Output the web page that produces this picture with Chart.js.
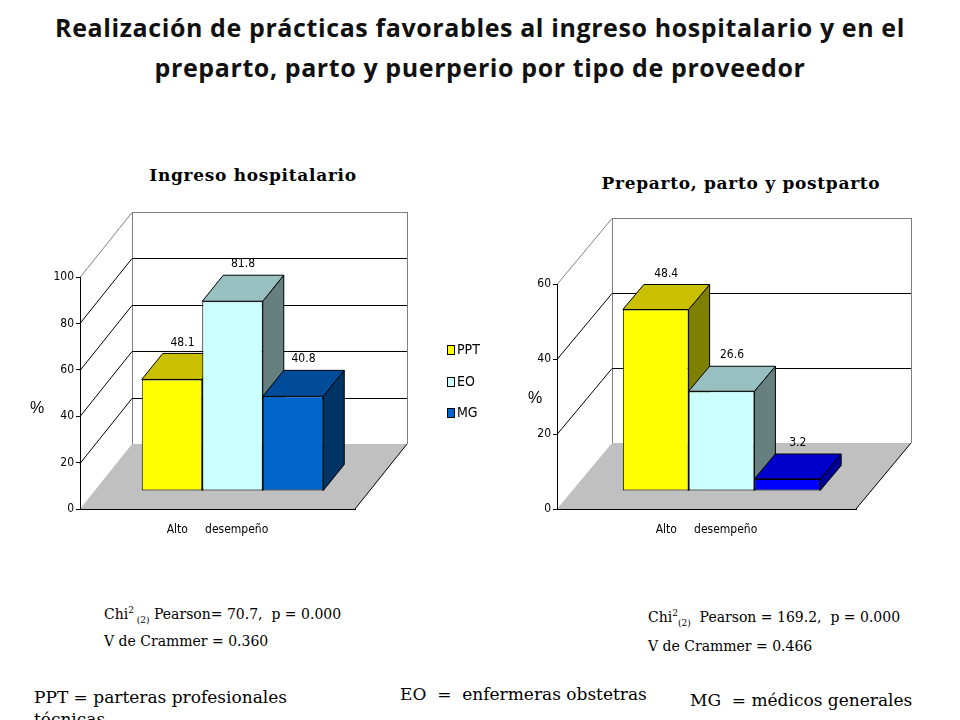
<!DOCTYPE html>
<html>
<head>
<meta charset="utf-8">
<script src="https://cdn.jsdelivr.net/npm/chart.js@4.4.1/dist/chart.umd.min.js"></script>
<style>
  body { margin: 0; width: 960px; height: 720px; overflow: hidden; background: #fff; position: relative; }
  canvas { position: absolute; top: 0; }
  #ingreso { left: 0; }
  #preparto { left: 480px; }
  .t { position: absolute; white-space: nowrap; color: #000; }
  #title { left: 0; top: 7px; width: 960px; text-align: center; font: bold 25px "Open Sans", Lato, sans-serif; letter-spacing: 0.6px; line-height: 40px; color: #111; }
  .sub { width: 400px; text-align: center; font: bold 17px "DejaVu Serif", serif; line-height: 20px; letter-spacing: 0.7px; }
  .pct { font: 16px "Liberation Sans", Arial, sans-serif; line-height: 20px; }
  .stat { font: 14px "DejaVu Serif", serif; line-height: 18px; }
  .stat sup, .stat sub { font-size: 9px; line-height: 0; }
  .foot { font: 17px "DejaVu Serif", serif; line-height: 22px; }
  #legend { left: 447px; top: 340px; font: 14px "Liberation Sans Narrow", "DejaVu Sans Condensed", sans-serif; }
  #legend div { height: 31.5px; line-height: 18px; }
  #legend span.box { display: inline-block; width: 6px; height: 8px; border: 1px solid #000; margin-right: 2px; vertical-align: -1px; }
</style>
</head>
<body>
<div class="t" id="title">Realización de prácticas favorables al ingreso hospitalario y en el<br>preparto, parto y puerperio por tipo de proveedor</div>
<div class="t sub" style="left:53px;top:165px">Ingreso hospitalario</div>
<div class="t sub" style="left:541px;top:173px">Preparto, parto y postparto</div>
<canvas id="ingreso" width="480" height="560"></canvas>
<canvas id="preparto" width="480" height="560"></canvas>
<div class="t pct" style="left:30px;top:398px">%</div>
<div class="t pct" style="left:528px;top:388px">%</div>
<div class="t" id="legend"></div>
<div class="t stat" style="left:104px;top:605px">Chi<sup>2</sup><sub> (2)</sub> Pearson= 70.7,&nbsp; p = 0.000</div>
<div class="t stat" style="left:104px;top:632px">V de Crammer = 0.360</div>
<div class="t stat" style="left:648px;top:608px">Chi<sup>2</sup><sub>(2)</sub>&nbsp; Pearson = 169.2,&nbsp; p = 0.000</div>
<div class="t stat" style="left:648px;top:637px">V de Crammer = 0.466</div>
<div class="t foot" style="left:34px;top:686px">PPT = parteras profesionales<br>técnicas</div>
<div class="t foot" style="left:400px;top:683px">EO&nbsp; =&nbsp; enfermeras obstetras</div>
<div class="t foot" style="left:690px;top:689px">MG&nbsp; = médicos generales</div>
<script>
const categories = ['Alto     desempeño'];
const seriesNames = ['PPT', 'EO', 'MG'];
const ingresoValues = [48.1, 81.8, 40.8];
const prepartoValues = [48.4, 26.6, 3.2];
const ingresoTicks = [0, 20, 40, 60, 80, 100];
const prepartoTicks = [0, 20, 40, 60];

// front / top / side faces
const ingresoFront = ['#ffff00', '#ccffff', '#0066cc'];
const ingresoTop = ['#c8c000', '#99c0c0', '#004c99'];
const ingresoSide = ['#808000', '#668080', '#003366'];
const prepartoFront = ['#ffff00', '#ccffff', '#0000ff'];
const prepartoTop = ['#c8c000', '#99c0c0', '#0000cc'];
const prepartoSide = ['#808000', '#668080', '#000099'];

const narrow = '"Liberation Sans Narrow", "DejaVu Sans Condensed", sans-serif';

function poly(ctx, pts, fill, stroke) {
  ctx.beginPath();
  ctx.moveTo(pts[0][0], pts[0][1]);
  for (let i = 1; i < pts.length; i++) ctx.lineTo(pts[i][0], pts[i][1]);
  ctx.closePath();
  if (fill) { ctx.fillStyle = fill; ctx.fill(); }
  if (stroke) { ctx.strokeStyle = stroke; ctx.lineWidth = 1; ctx.stroke(); }
}

function line(ctx, x1, y1, x2, y2, color) {
  ctx.beginPath();
  ctx.moveTo(x1, y1);
  ctx.lineTo(x2, y2);
  ctx.strokeStyle = color;
  ctx.lineWidth = 1;
  ctx.stroke();
}

// fake 3D: wall + floor behind, side/top faces of bars, fronts pushed back
const box3d = {
  id: 'box3d',
  beforeDraw(chart, args, o) {
    const ctx = chart.ctx, a = chart.chartArea, y = chart.scales.y;
    const wx = o.wallX, wy = o.wallY;
    ctx.save();
    poly(ctx, [[a.left, a.bottom], [a.right, a.bottom], [a.right + wx, a.bottom + wy], [a.left + wx, a.bottom + wy]], '#c0c0c0');
    line(ctx, a.left + wx + 0.5, a.top + wy, a.left + wx + 0.5, a.bottom + wy, '#808080');
    line(ctx, a.right + wx + 0.5, a.top + wy, a.right + wx + 0.5, a.bottom + wy, '#808080');
    y.ticks.forEach(t => {
      if (t.value === y.min) return;
      const py = Math.round(y.getPixelForValue(t.value)) + 0.5;
      const c = t.value === y.max ? '#808080' : '#000';
      line(ctx, a.left, py, a.left + wx, py + wy, c);
      line(ctx, a.left + wx, py + wy, a.right + wx, py + wy, c);
    });
    line(ctx, a.right, a.bottom, a.right + wx, a.bottom + wy, '#000');
    ctx.restore();
  },
  beforeDatasetsDraw(chart, args, o) {
    const ctx = chart.ctx;
    const fx = Math.round(o.wallX * o.front), fy = Math.round(o.wallY * o.front);
    const bx = Math.round(o.wallX * o.depth), by = Math.round(o.wallY * o.depth);
    const bars = chart.data.datasets.map((ds, i) => ({ ds, el: chart.getDatasetMeta(i).data[0] }));
    ctx.save();
    bars.forEach(({ ds, el }) => {
      const r = el.x + el.width / 2 + fx, t = el.y + fy, b = el.base + fy;
      poly(ctx, [[r, t], [r + bx, t + by], [r + bx, b + by], [r, b]], ds.sideColor, '#000');
    });
    bars.forEach(({ ds, el }) => {
      const l = el.x - el.width / 2 + fx, r = el.x + el.width / 2 + fx, t = el.y + fy;
      poly(ctx, [[l, t], [l + bx, t + by], [r + bx, t + by], [r, t]], ds.topColor, '#000');
    });
    ctx.restore();
    ctx.save();
    ctx.translate(fx, fy);
  },
  afterDatasetsDraw(chart, args, o) {
    const ctx = chart.ctx;
    ctx.restore();
    const fx = Math.round(o.wallX * o.front), fy = Math.round(o.wallY * o.front);
    const bx = Math.round(o.wallX * o.depth), by = Math.round(o.wallY * o.depth);
    ctx.save();
    ctx.font = '12px ' + narrow;
    ctx.fillStyle = '#000';
    ctx.textAlign = 'center';
    ctx.textBaseline = 'middle';
    chart.data.datasets.forEach((ds, i) => {
      const el = chart.getDatasetMeta(i).data[0];
      ctx.fillText(ds.data[0].toFixed(1), el.x + fx + bx / 2, el.y + fy + by - 11);
    });
    ctx.restore();
  }
};

function makeChart(id, values, ticks, front, top, side, padding, box) {
  return new Chart(document.getElementById(id), {
    type: 'bar',
    data: {
      labels: categories,
      datasets: seriesNames.map((name, i) => ({
        label: name,
        data: [values[i]],
        backgroundColor: front[i],
        topColor: top[i],
        sideColor: side[i],
        borderColor: '#000',
        borderWidth: 1,
        borderSkipped: false,
      })),
    },
    options: {
      responsive: false,
      animation: false,
      devicePixelRatio: 1,
      layout: { padding: padding },
      datasets: { bar: { barPercentage: 1, categoryPercentage: 0.66 } },
      plugins: {
        legend: { display: false },
        tooltip: { enabled: false },
        box3d: box,
      },
      scales: {
        x: {
          grid: { display: false, drawTicks: false },
          border: { display: true, color: '#000' },
          ticks: { padding: 14, color: '#000', font: { family: narrow, size: 12 } },
          afterFit: s => { s.height = 51; },
        },
        y: {
          min: 0,
          max: ticks[ticks.length - 1],
          afterBuildTicks: s => { s.ticks = ticks.map(v => ({ value: v })); },
          grid: { drawOnChartArea: false, color: '#000', tickLength: 4 },
          border: { color: '#000' },
          ticks: { padding: 2, color: '#000', font: { family: narrow, size: 12 } },
          afterFit: s => { s.width = 40; },
        },
      },
    },
    plugins: [box3d],
  });
}

makeChart('ingreso', ingresoValues, ingresoTicks, ingresoFront, ingresoTop, ingresoSide,
  { left: 40, top: 277, right: 125, bottom: 0 },
  { wallX: 52, wallY: -65, front: 0.28, depth: 0.4 });
makeChart('preparto', prepartoValues, prepartoTicks, prepartoFront, prepartoTop, prepartoSide,
  { left: 37, top: 284, right: 104, bottom: 0 },
  { wallX: 55, wallY: -66, front: 0.28, depth: 0.38 });

const legend = document.getElementById('legend');
seriesNames.forEach((name, i) => {
  const row = document.createElement('div');
  const box = document.createElement('span');
  box.className = 'box';
  box.style.background = ingresoFront[i];
  row.appendChild(box);
  row.appendChild(document.createTextNode(name));
  legend.appendChild(row);
});
</script>
</body>
</html>
